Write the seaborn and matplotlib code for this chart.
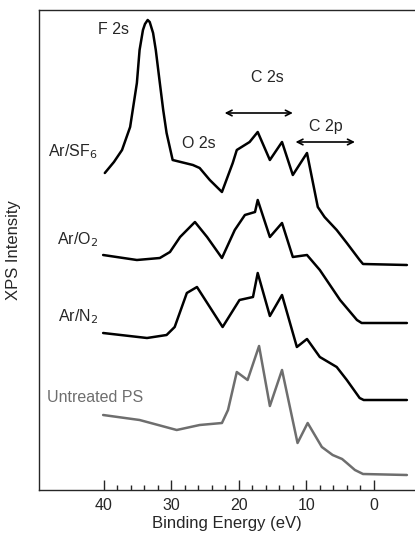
import numpy as np
import pandas as pd
import matplotlib
matplotlib.use("Agg")
import matplotlib.pyplot as plt
from matplotlib.ticker import FixedLocator
import seaborn as sns

# --- data (binding energy in eV, stacked intensity in a.u.) ---
sf6_energy = [39.85, 38.5, 37.3, 36.1, 35.6, 35.1, 34.7, 34.2, 33.9, 33.5, 33.2, 32.7, 32.3,
              31.7, 31.2, 30.7, 29.8, 26.8, 25.8, 24.3,
              22.5, 20.9, 20.3, 18.4, 17.2, 15.4, 13.6, 12.0, 9.9, 8.3, 7.3, 5.5, 4.0, 2.1, 1.6, -4.9]
sf6_int = [317, 328, 340, 363, 385, 407, 440, 460, 466, 470, 468, 457, 440,
           407, 380, 357, 330, 325, 322, 310,
           298, 327, 340, 348, 358, 330, 348, 315, 337, 283, 273, 260, 247, 230, 226, 225]

o2_energy = [40.1, 35.1, 31.7, 30.2, 28.7, 26.5, 24.7, 22.5, 20.6, 19.1, 17.6, 17.2, 15.4,
             13.6, 12.0, 9.9, 8.0, 5.0, 2.5, 1.8, -4.9]
o2_int = [235, 230, 232, 238, 253, 268, 253, 232, 260, 275, 278, 290, 253,
          267, 233, 235, 220, 190, 170, 167, 167]

n2_energy = [40.1, 33.6, 30.7, 29.5, 27.7, 26.2, 24.3, 22.4, 19.9, 17.9, 17.2, 15.4, 13.6,
             11.4, 9.9, 8.0, 5.5, 4.0, 2.1, 1.5, -4.9]
n2_int = [157, 152, 155, 163, 197, 203, 183, 163, 190, 193, 217, 174, 195,
          143, 151, 133, 123, 110, 92, 90, 90]

ps_energy = [40.1, 34.7, 29.2, 25.8, 22.5, 21.6, 20.3, 18.7, 17.0, 15.4, 13.6, 11.3, 9.8,
             7.7, 6.1, 4.7, 4.0, 2.8, 1.6, -4.9]
ps_int = [75, 70, 60, 65, 67, 80, 118, 110, 144, 84, 120, 47, 67,
          43, 35, 31, 27, 20, 16, 15]

major_ticks = [40, 30, 20, 10, 0]
minor_ticks = [38, 36, 34, 32, 28, 26, 24, 22, 18, 16, 14, 12, 8, 6, 4, 2]

sns.set_style("ticks")
plt.rcParams['font.family'] = ['Liberation Sans', 'DejaVu Sans']

fig = plt.figure(figsize=(4.15, 5.39), dpi=100)
ax = fig.add_axes([39 / 415, 49 / 539, 1 - 39 / 415, 480 / 539])

traces = [(sf6_energy, sf6_int, 'black'),
          (o2_energy, o2_int, 'black'),
          (n2_energy, n2_int, 'black'),
          (ps_energy, ps_int, '#6e6e6e')]
for en, inten, col in traces:
    df = pd.DataFrame({'energy': en, 'intensity': inten})
    sns.lineplot(data=df, x='energy', y='intensity', color=col, linewidth=1.8,
                 sort=False, ax=ax)

ax.set_xlim(49.6, -6.1)
ax.set_ylim(0, 480)

# labels for each spectrum / peak
fs = 11.5
ax.text(40.9, 338, 'Ar/SF$_6$', fontsize=fs, ha='right', va='center')
ax.text(38.5, 460, 'F 2s', fontsize=fs, ha='center', va='center')
ax.text(25.9, 347, 'O 2s', fontsize=fs, ha='center', va='center')
ax.text(15.8, 412, 'C 2s', fontsize=fs, ha='center', va='center')
ax.text(7.1, 364, 'C 2p', fontsize=fs, ha='center', va='center')
ax.text(40.9, 250, 'Ar/O$_2$', fontsize=fs, ha='right', va='center')
ax.text(40.9, 173, 'Ar/N$_2$', fontsize=fs, ha='right', va='center')
ax.text(48.4, 92, 'Untreated PS', fontsize=fs, ha='left', va='center', color='#6e6e6e')

arrow = dict(arrowstyle='<->', color='black', lw=1.2, shrinkA=0, shrinkB=0)
ax.annotate('', xy=(22.1, 377), xytext=(12.0, 377), arrowprops=arrow)
ax.annotate('', xy=(11.6, 348), xytext=(2.8, 348), arrowprops=arrow)

ax.xaxis.set_major_locator(FixedLocator(major_ticks))
ax.xaxis.set_minor_locator(FixedLocator(minor_ticks))
ax.tick_params(axis='x', which='major', direction='in', length=7, width=1,
               labelsize=11.5, pad=6)
ax.tick_params(axis='x', which='minor', direction='in', length=3.5, width=1)
ax.set_yticks([])
ax.spines['right'].set_visible(False)
for s in ['left', 'bottom', 'top']:
    ax.spines[s].set_linewidth(1.0)

ax.set_xlabel('Binding Energy (eV)', fontsize=12, labelpad=2)
ax.set_ylabel('XPS Intensity', fontsize=12)
ax.yaxis.set_label_coords(-0.048, 0.5)

fig.savefig('out.png', dpi=100)
